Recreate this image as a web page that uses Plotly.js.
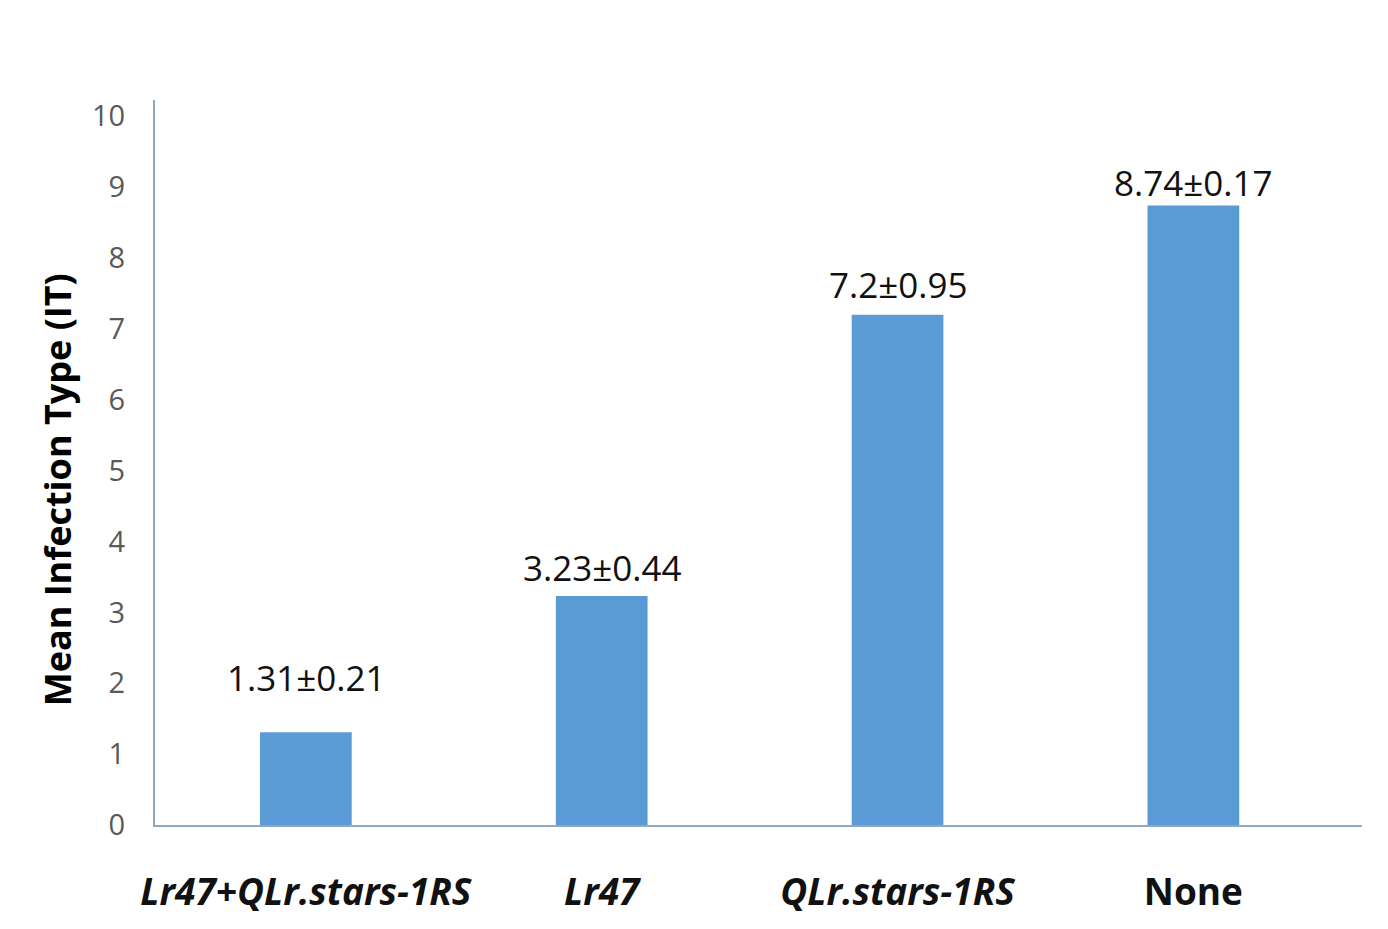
<!DOCTYPE html>
<html>
<head>
<meta charset="utf-8">
<script src="https://cdn.plot.ly/plotly-3.0.1.min.js"></script>
<style>html,body{margin:0;padding:0;background:#fff}#chart{width:1388px;height:929px}</style>
</head>
<body>
<div id="chart"></div>
<script>
const categories = ["Lr47+QLr.stars-1RS", "Lr47", "QLr.stars-1RS", "None"];
const tickLabels = ["<b><i>Lr47+QLr.stars-1RS</i></b>", "<b><i>Lr47</i></b>", "<b><i>QLr.stars-1RS</i></b>", "<b>None</b>"];
const meanIT = [1.31, 3.23, 7.2, 8.74];
const seIT = [0.21, 0.44, 0.95, 0.17];
const yTicks = [0,1,2,3,4,5,6,7,8,9,10];
const yTitle = "Mean Infection Type (IT)";

const labelShift = [55, 29, 30, 23];
const xIdx = categories.map((c, i) => i);

const trace = {
  type: 'bar',
  x: xIdx,
  y: meanIT,
  width: 0.31,
  marker: {color: '#5B9BD5'},
  hoverinfo: 'none'
};

const annotations = meanIT.map((v, i) => ({
  x: xIdx[i], y: v, xref: 'x', yref: 'y',
  text: v + '±' + seIT[i].toFixed(2),
  showarrow: false, yanchor: 'middle', yshift: labelShift[i],
  font: {family: 'Open Sans, sans-serif', size: 35, color: '#111'}
}));

annotations.push({
  xref: 'paper', yref: 'paper', x: -0.081, y: 0.462,
  xanchor: 'center', yanchor: 'middle', textangle: -90,
  text: '<b>' + yTitle + '</b>', showarrow: false,
  font: {family: 'Open Sans, sans-serif', size: 36, color: '#000'}
});

const layout = {
  width: 1388, height: 929,
  margin: {l: 155, r: 26, t: 100, b: 104},
  paper_bgcolor: '#fff', plot_bgcolor: '#fff',
  showlegend: false,
  xaxis: {
    range: [-0.51, 3.57],
    tickmode: 'array', tickvals: xIdx, ticktext: tickLabels,
    showgrid: false, zeroline: false,
    showline: true, linecolor: '#8EA9C1', linewidth: 2,
    ticks: '', ticklabelstandoff: 34,
    tickfont: {family: 'Open Sans, sans-serif', size: 37, color: '#111'}
  },
  yaxis: {
    range: [0, 10.23],
    tickmode: 'array', tickvals: yTicks,
    showgrid: false, zeroline: false,
    showline: true, linecolor: '#8EA9C1', linewidth: 2,
    ticks: '', ticklabelstandoff: 22,
    tickfont: {family: 'Open Sans, sans-serif', size: 29, color: '#595959'}
  },
  annotations: annotations
};

Plotly.newPlot('chart', [trace], layout, {displayModeBar: false, staticPlot: true});
</script>
</body>
</html>
